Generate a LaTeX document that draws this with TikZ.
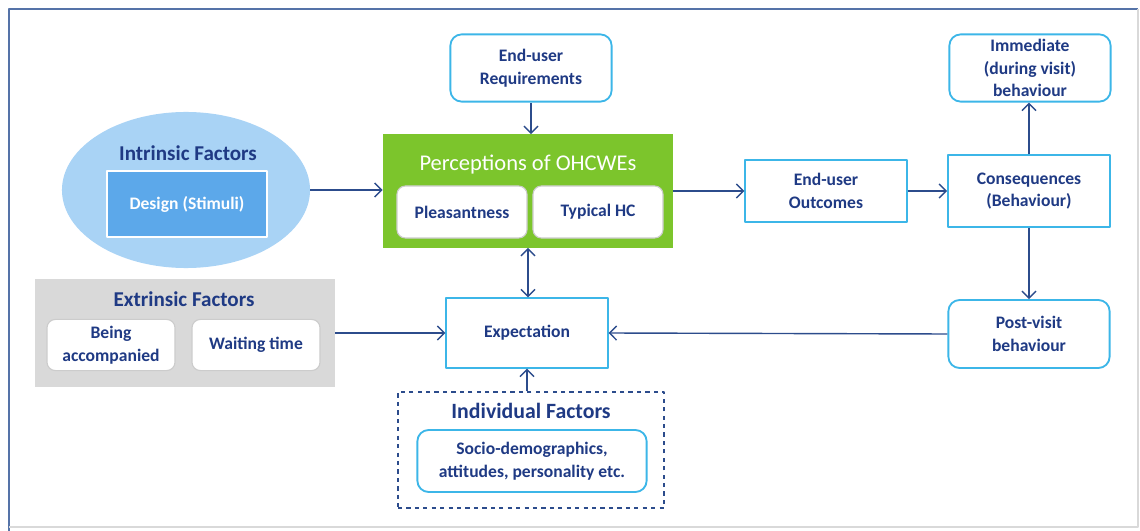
\documentclass[tikz,border=0pt]{standalone}
\usepackage{fontspec}
\setmainfont{Carlito}
\usetikzlibrary{arrows.meta,shapes.geometric}
\definecolor{navy}{HTML}{1F3A84}
\definecolor{linkblue}{HTML}{2C4C8C}
\definecolor{skyline}{HTML}{3CB6E8}
\definecolor{leafgreen}{HTML}{7CC52C}
\definecolor{palesky}{HTML}{A9D3F5}
\definecolor{midsky}{HTML}{5CA8EA}
\definecolor{panelgrey}{HTML}{D9D9D9}
\definecolor{framecol}{HTML}{5573A8}
\begin{document}
\begin{tikzpicture}[x=0.025cm, y=-0.025cm, line join=round,
		>={Straight Barb[length=5pt,width=10pt]},
		lbl/.style={font=\fontsize{12.5}{16}\selectfont\bfseries, text=navy, align=center, inner sep=0pt},
		sqbox/.style={lbl, draw=skyline, line width=1.3pt, fill=white},
		rdbox/.style={sqbox, rounded corners=8pt},
		whitebox/.style={lbl, draw=black!20, line width=.8pt, fill=white, rounded corners=6pt},
		headline/.style={font=\fontsize{15}{18}\selectfont\bfseries, text=navy},
		link/.style={->, draw=linkblue, line width=1pt}
		]
		\useasboundingbox (0,0) rectangle (1140,531);
		% frame
		\draw[framecol, line width=1pt] (9,531)--(9,9)--(1138,9);
		\draw[black!15, line width=1pt] (1138,9)--(1138,527)--(9,527);
		% intrinsic factors
		\node[ellipse, fill=palesky, minimum width=6.2cm, minimum height=3.9cm, inner sep=0pt] (intr) at (186,190) {};
		\node[headline] (intrt) at (188,153) {Intrinsic Factors};
		\node[lbl, fill=midsky, draw=white, line width=.8pt, text=white, minimum width=4cm, minimum height=1.65cm] (design) at (187,204) {Design (Stimuli)};
		% perceptions
		\node[fill=leafgreen, minimum width=7.25cm, minimum height=2.83cm, inner sep=0pt] (perc) at (528,191) {};
		\node[headline, text=white, font=\fontsize{16}{18}\selectfont] (perct) at (528,165) {Perceptions of OHCWEs};
		\node[whitebox, minimum width=3.25cm, minimum height=1.3cm] (pleas) at (462,212) {Pleasantness};
		\node[whitebox, minimum width=3.25cm, minimum height=1.3cm] (typ) at (598,212) {Typical HC};
		% requirements, outcomes, behaviour
		\node[rdbox, minimum width=4.03cm, minimum height=1.68cm] (req) at (531,68) {End-user\\Requirements};
		\node[sqbox, minimum width=4.03cm, minimum height=1.55cm] (outc) at (826,191) {End-user\\Outcomes};
		\node[sqbox, minimum width=4.05cm, minimum height=1.8cm] (cons) at (1029,191) {Consequences\\(Behaviour)};
		\node[rdbox, minimum width=4.03cm, minimum height=1.68cm] (imm) at (1030,68) {Immediate\\(during visit)\\behaviour};
		\node[rdbox, minimum width=4.03cm, minimum height=1.7cm] (post) at (1029,334) {Post-visit\\behaviour};
		\node[sqbox, minimum width=4.03cm, minimum height=1.73cm] (expect) at (527,333) {Expectation};
		% extrinsic factors
		\node[fill=panelgrey, minimum width=7.5cm, minimum height=2.68cm, inner sep=0pt] (extr) at (185,333) {};
		\node[headline] (extrt) at (184,299) {Extrinsic Factors};
		\node[whitebox, minimum width=3.2cm, minimum height=1.28cm] (being) at (111,345) {Being\\accompanied};
		\node[whitebox, minimum width=3.2cm, minimum height=1.28cm] (wait) at (256,345) {Waiting time};
		% individual factors
		\node[draw=linkblue, dashed, line width=1pt, minimum width=6.65cm, minimum height=2.9cm, inner sep=0pt] (indiv) at (531,450) {};
		\node[headline, font=\fontsize{15.5}{19}\selectfont\bfseries] (indivt) at (531,411) {Individual Factors};
		\node[rdbox, minimum width=5.73cm, minimum height=1.55cm] (socio) at (532,461) {Socio-demographics,\\attitudes, personality etc.};
		% connectors
		\draw[link] (intr.east) -- (intr.east -| perc.west);
		\draw[link] (req.south) -- (req.south |- perc.north);
		\draw[link] (perc.east) -- (outc.west);
		\draw[link] (outc.east) -- (cons.west);
		\draw[link] (cons.north) -- (cons.north |- imm.south);
		\draw[link] (cons.south) -- (cons.south |- post.north);
		\draw[link, <->] (perc.south) -- (perc.south |- expect.north);
		\draw[link] (extr.east) -- (expect.west);
		\draw[link] (post.west) -- (expect.east);
		\draw[link] (indiv.north -| expect.south) -- (expect.south);
\end{tikzpicture}
\end{document}
